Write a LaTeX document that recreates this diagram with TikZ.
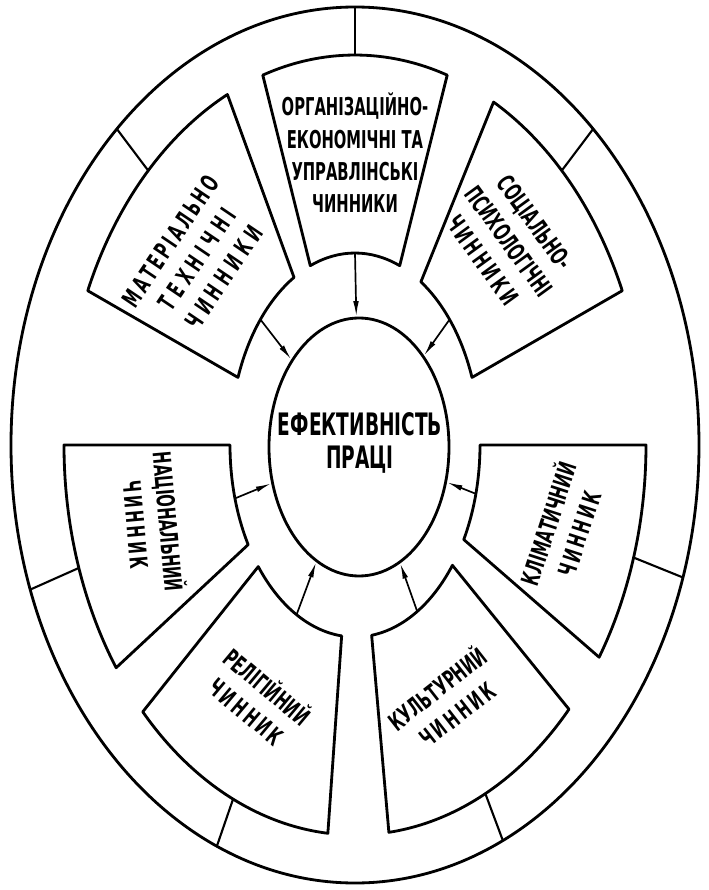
\documentclass[tikz,border=0pt]{standalone}
\usepackage{fontspec}
\newfontfamily\hand[FakeStretch=0.6]{DejaVu Sans}
\usetikzlibrary{shapes.geometric,arrows.meta}

% parametric angle of the point where the ray at angle #2 meets the ellipse #3 x #4
\newcommand{\ellang}[4]{%
  \pgfmathsetmacro{#1}{atan2((#3)*sin(#2),(#4)*cos(#2))}%
  \pgfmathsetmacro{#1}{#1+360*round(((#2)-#1)/360)}}
\newcommand{\spaced}[1]{{\addfontfeature{LetterSpace=12}#1}}
\newcommand{\wide}[1]{{\addfontfeature{LetterSpace=22}#1}}

\begin{document}
\begin{tikzpicture}[line cap=round,line join=round,
    rim/.style={line width=2pt},
    spoke/.style={line width=1.5pt},
    feed/.style={line width=1.2pt,-{Latex[length=11pt,width=4pt]}},
    lettering/.style={align=center,inner sep=0pt,font=\hand\bfseries\fontsize{17.5}{23}\selectfont}]
  \useasboundingbox (-8.875,-11.125) rectangle (8.85,11.125);
  \def\ax{7.275} \def\ay{9.75}  % outer edge of the boxes
  \def\bx{3.125} \def\by{4.8}   % inner edge of the boxes
  \def\cx{8.6}   \def\cy{10.95} % big ellipse
  \draw[rim] (0,0) ellipse [x radius=\cx, y radius=\cy];
  \node[draw,rim,ellipse,minimum width=4.5cm,minimum height=6.45cm] (eff) at (0.1,-0.05) {};
  \node[lettering,font=\hand\bfseries\fontsize{22}{24}\selectfont] (efftext) at (0.125,0.05) {ЕФЕКТИВНІСТЬ\\ПРАЦІ};
  \foreach \name/\from/\to/\spk in {org/76/104/90, mat/110/150/127, soc/30/68/53,
      nat/180/223/204, rel/231.5/266/251, kul/275/309/290.5, kli/319/360/338} {
    \ellang{\ta}{\from}{\ax}{\ay} \ellang{\tb}{\to}{\ax}{\ay}
    \ellang{\sa}{\from}{\bx}{\by} \ellang{\sb}{\to}{\bx}{\by}
    \draw[rim] ({\ax*cos(\ta)},{\ay*sin(\ta)}) arc[start angle=\ta,end angle=\tb,x radius=\ax,y radius=\ay]
      -- ({\bx*cos(\sb)},{\by*sin(\sb)}) arc[start angle=\sb,end angle=\sa,x radius=\bx,y radius=\by] -- cycle;
    \ellang{\pa}{\spk}{\ax}{\ay} \ellang{\pb}{\spk}{\bx}{\by} \ellang{\pc}{\spk}{\cx}{\cy}
    \coordinate (\name-rim) at ({\cx*cos(\pc)},{\cy*sin(\pc)});
    \coordinate (\name-out) at ({\ax*cos(\pa)},{\ay*sin(\pa)});
    \coordinate (\name-in) at ({\bx*cos(\pb)},{\by*sin(\pb)});
    \draw[spoke] (\name-rim) -- (\name-out);
    \draw[feed] (\name-in) -- (eff);
  }
  \node[lettering] (org) at (0,7.3) {ОРГАНІЗАЦІЙНО-\\ЕКОНОМІЧНІ ТА\\УПРАВЛІНСЬКІ\\ЧИННИКИ};
  \node[lettering,rotate=56] (mat) at (-3.95,4.65) {\spaced{МАТЕРІАЛЬНО}\\\wide{ТЕХНІЧНІ}\\\wide{ЧИННИКИ}};
  \node[lettering,rotate=-54] (soc) at (3.85,5.1) {СОЦІАЛЬНО-\\ПСИХОЛОГІЧНІ\\\spaced{ЧИННИКИ}};
  \node[lettering,rotate=-85] (nat) at (-5.025,-1.95) {НАЦІОНАЛЬНИЙ\\\spaced{ЧИННИК}};
  \node[lettering,rotate=72] (kli) at (5.175,-2.075) {КЛІМАТИЧНИЙ\\\spaced{ЧИННИК}};
  \node[lettering,rotate=-40] (rel) at (-2.425,-6.325) {РЕЛІГІЙНИЙ\\\spaced{ЧИННИК}};
  \node[lettering,rotate=38] (kul) at (2.275,-6.375) {КУЛЬТУРНИЙ\\\spaced{ЧИННИК}};
\end{tikzpicture}
\end{document}
